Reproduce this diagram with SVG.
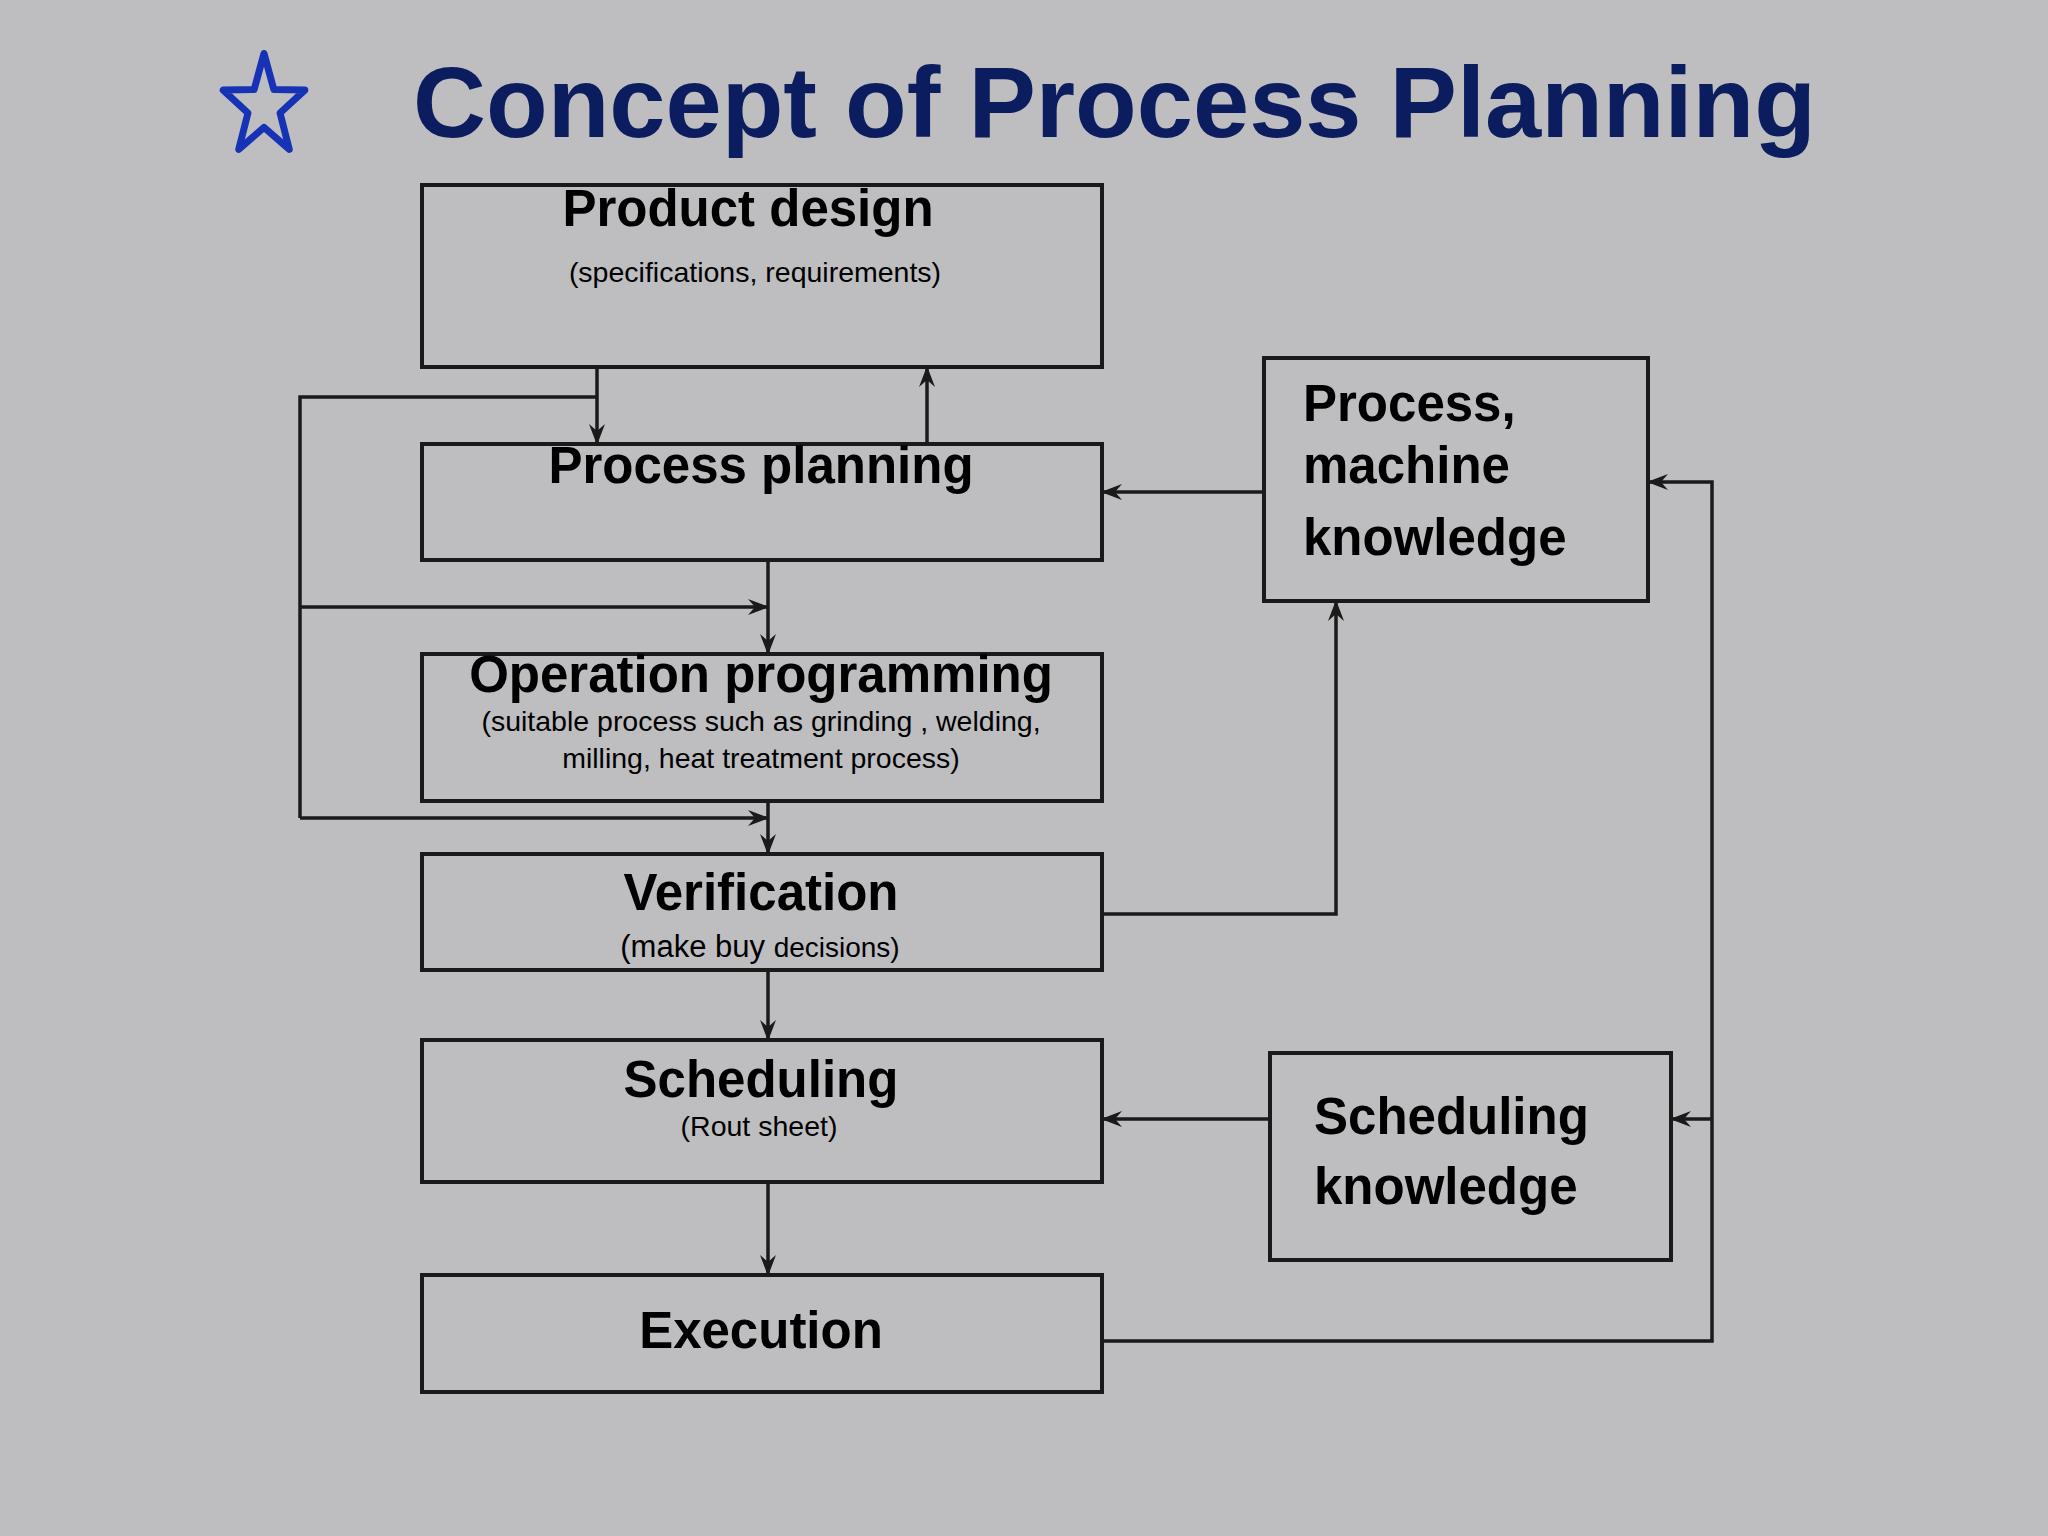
<svg xmlns="http://www.w3.org/2000/svg" width="2048" height="1536" viewBox="0 0 2048 1536">
<style>
.box{fill:#bebdc0;stroke:#1a1a1a;stroke-width:4}
.b{font-family:"Liberation Sans",Arial,sans-serif;font-weight:bold;font-size:51px;fill:#000}
.r{font-family:"Liberation Sans",Arial,sans-serif;font-size:28.5px;fill:#000}
.c{text-anchor:middle}
.ln{fill:none;stroke:#1a1a1a;stroke-width:3.5}
.ar{marker-end:url(#arr)}
</style>
<defs>
<marker id="arr" viewBox="0 0 21 16" refX="20" refY="8" markerWidth="21" markerHeight="16" orient="auto" markerUnits="userSpaceOnUse">
<path d="M0,0 L21,8 L0,16 L7,8 Z" fill="#1a1a1a"/>
</marker>
</defs>
<rect width="2048" height="1536" fill="#bebdc0"/>
<g id="star" transform="translate(264,106.5) scale(0.81,1)">
<polygon points="0,-53 12.2,-16.9 50.4,-16.4 19.8,6.5 31.2,42.9 0,20.8 -31.2,42.9 -19.8,6.5 -50.4,-16.4 -12.2,-16.9" fill="none" stroke="#1733b5" stroke-width="7" vector-effect="non-scaling-stroke" stroke-linejoin="round"/>
</g>
<text id="title" x="413" y="137" font-family="'Liberation Sans',Arial,sans-serif" font-weight="bold" font-size="101" fill="#0b1d5e">Concept of Process Planning</text>
<g id="connectors">
<path class="ln ar" d="M597,367 V444"/>
<path class="ln" d="M597,397 H300 V818"/>
<path class="ln ar" d="M300,607 H768"/>
<path class="ln ar" d="M300,818 H768"/>
<path class="ln ar" d="M927,444 V367"/>
<path class="ln ar" d="M768,560 V654"/>
<path class="ln ar" d="M768,801 V854"/>
<path class="ln ar" d="M768,970 V1040"/>
<path class="ln ar" d="M768,1182 V1275"/>
<path class="ln ar" d="M1264,492 H1102"/>
<path class="ln ar" d="M1102,914 H1336 V601"/>
<path class="ln ar" d="M1102,1341 H1712 V482 H1648"/>
<path class="ln ar" d="M1712,1119 H1671"/>
<path class="ln ar" d="M1270,1119 H1102"/>
</g>
<g id="product-design">
<rect class="box" x="422" y="185" width="680" height="182"/>
<text class="b c" x="748" y="226">Product design</text>
<text class="r c" x="755" y="282">(specifications, requirements)</text>
</g>
<g id="process-planning">
<rect class="box" x="422" y="444" width="680" height="116"/>
<text class="b c" x="761" y="483">Process planning</text>
</g>
<g id="operation-programming">
<rect class="box" x="422" y="654" width="680" height="147"/>
<text class="b c" x="761" y="692">Operation programming</text>
<text class="r c" x="761" y="731">(suitable process such as grinding , welding,</text>
<text class="r c" x="761" y="768">milling, heat treatment process)</text>
</g>
<g id="verification">
<rect class="box" x="422" y="854" width="680" height="116"/>
<text class="b c" x="761" y="910">Verification</text>
<text class="r c" x="760" y="957"><tspan font-size="31">(make buy </tspan><tspan font-size="28">decisions)</tspan></text>
</g>
<g id="scheduling">
<rect class="box" x="422" y="1040" width="680" height="142"/>
<text class="b c" x="761" y="1097">Scheduling</text>
<text class="r c" x="759" y="1136">(Rout sheet)</text>
</g>
<g id="execution">
<rect class="box" x="422" y="1275" width="680" height="117"/>
<text class="b c" x="761" y="1348">Execution</text>
</g>
<g id="process-machine-knowledge">
<rect class="box" x="1264" y="358" width="384" height="243"/>
<text class="b" x="1303" y="421">Process,</text>
<text class="b" x="1303" y="483">machine</text>
<text class="b" x="1303" y="555">knowledge</text>
</g>
<g id="scheduling-knowledge">
<rect class="box" x="1270" y="1053" width="401" height="207"/>
<text class="b" x="1314" y="1134">Scheduling</text>
<text class="b" x="1314" y="1204">knowledge</text>
</g>
</svg>
